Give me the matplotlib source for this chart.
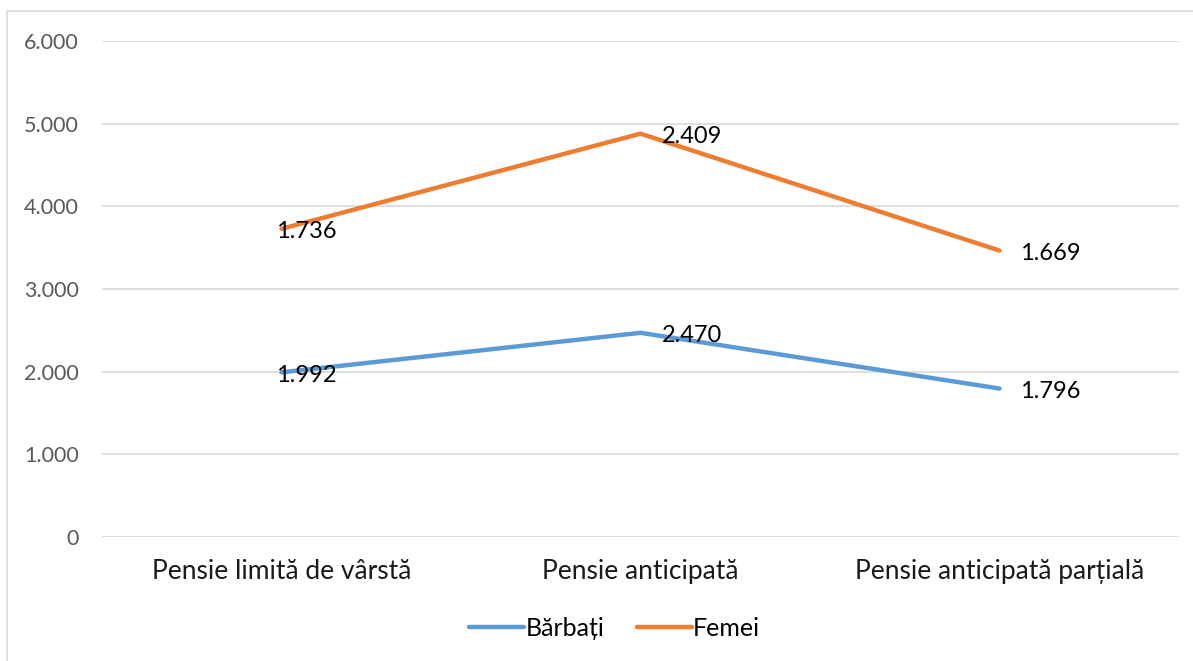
import matplotlib
matplotlib.use("Agg")
import matplotlib.pyplot as plt
from matplotlib.ticker import FuncFormatter, MultipleLocator
from matplotlib.patches import Rectangle
import numpy as np

categories = ["Pensie limită de vârstă", "Pensie anticipată", "Pensie anticipată parțială"]
barbati = [1992, 2470, 1796]
femei = [1736, 2409, 1669]
series_names = ["Bărbați", "Femei"]
colors = ["#5B9BD5", "#ED7D31"]

plt.rcParams['font.family'] = ['Lato', 'DejaVu Sans']

fig = plt.figure(figsize=(11.93, 6.61), dpi=100)
W, H = 1193, 661
left, right, top, bottom = 102, 1179, 41, 537
ax = fig.add_axes([left / W, 1 - bottom / H, (right - left) / W, (bottom - top) / H])

x = np.arange(len(categories))
b = np.array(barbati)
f_stack = b + np.array(femei)

ax.plot(x, b, color=colors[0], lw=3.2, solid_capstyle='round', label=series_names[0], zorder=3)
ax.plot(x, f_stack, color=colors[1], lw=3.2, solid_capstyle='round', label=series_names[1], zorder=3)

def fmt(v):
    return f"{int(v):,}".replace(",", ".")

offsets_px = [-5, 21, 21]
for i in range(len(categories)):
    for yv, val in ((b[i], barbati[i]), (f_stack[i], femei[i])):
        ax.annotate(fmt(val), (x[i], yv), xytext=(offsets_px[i] * 0.72, -3 * 0.72),
                    textcoords='offset points', ha='left', va='center',
                    fontsize=17, color='black', zorder=4)

ax.set_xlim(-0.5, len(categories) - 0.5)
ax.set_ylim(0, 6000)
ax.yaxis.set_major_locator(MultipleLocator(1000))
ax.yaxis.set_major_formatter(FuncFormatter(lambda v, p: fmt(v)))
ax.set_xticks(x)
ax.set_xticklabels(categories)
ax.grid(axis='y', color='#D9D9D9', lw=1.2)
ax.set_axisbelow(True)
for s in ax.spines.values():
    s.set_visible(False)
ax.tick_params(axis='y', length=0, labelsize=15.5, labelcolor='#595959', pad=23 * 0.72)
ax.tick_params(axis='x', length=0, labelsize=19, labelcolor='#1a1a1a', pad=22 * 0.72)

leg = fig.legend(loc='center', bbox_to_anchor=(0.515, 1 - 628 / H), ncol=2, frameon=False,
                 fontsize=18, handlelength=2.2, handletextpad=0.05, columnspacing=1.3)
for t in leg.get_texts():
    t.set_color('black')

fig.patches.append(Rectangle((7 / W, -0.1), 1.2, 1 - 11 / H + 0.1, transform=fig.transFigure,
                             fill=False, edgecolor='#D9D9D9', lw=1.2))

fig.savefig("out.png", dpi=100)
